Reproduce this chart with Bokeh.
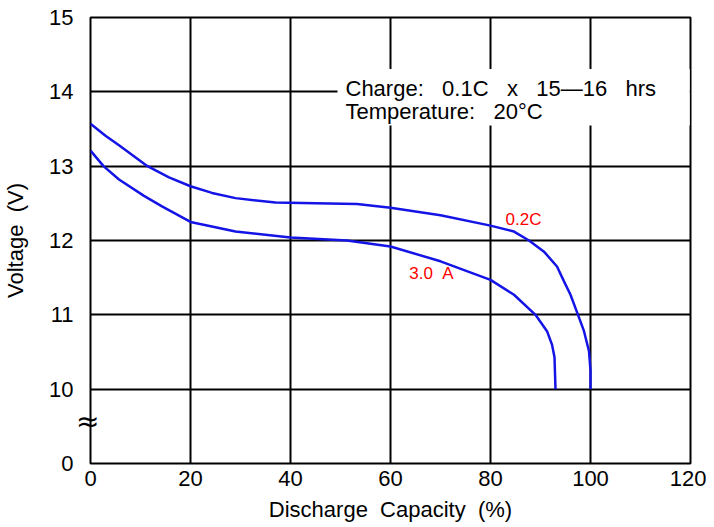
from bokeh.plotting import figure
from bokeh.models import FixedTicker, Range1d, Label, LinearAxis
from bokeh.embed import file_html
from bokeh.resources import INLINE

# ---- data ----
cap_02c = [0, 3, 5.7, 11.4, 15.7, 20, 24.3, 29, 37, 45, 53.3, 60, 70, 80, 84.7, 87.7,
           90.7, 93.3, 94.7, 96, 97.5, 98.7, 99.7, 100, 100]
volt_02c = [13.57, 13.41, 13.28, 13.0, 12.85, 12.73, 12.64, 12.57, 12.51, 12.5, 12.49,
            12.44, 12.34, 12.2, 12.12, 12.0, 11.85, 11.65, 11.45, 11.27, 11.0, 10.78,
            10.51, 10.25, 10.0]
cap_3a = [0, 2.6, 5.7, 10.7, 14.3, 20, 29, 40, 51.3, 60, 70, 80, 84.7, 89, 91.3, 92.3,
          92.8, 93]
volt_3a = [13.21, 13.0, 12.82, 12.6, 12.46, 12.25, 12.12, 12.04, 12.0, 11.92, 11.72,
           11.47, 11.27, 11.0, 10.78, 10.6, 10.43, 10.0]
x_ticks = [0, 20, 40, 60, 80, 100, 120]
y_ticks = [9, 10, 11, 12, 13, 14, 15]
y_tick_labels = {9: "0", 10: "10", 11: "11", 12: "12", 13: "13", 14: "14", 15: "15"}
break_at = 9.56

FONT = "Liberation Sans"
NB = "\u00a0"

p = figure(width=706, height=524, output_backend="svg", toolbar_location=None,
           x_range=Range1d(0, 120), y_range=Range1d(9, 15),
           min_border_left=90, min_border_right=16, min_border_top=17, min_border_bottom=58)
p.background_fill_color = "white"
p.border_fill_color = "white"
p.outline_line_color = "black"
p.outline_line_width = 2

p.xaxis.ticker = FixedTicker(ticks=x_ticks)
p.yaxis.ticker = FixedTicker(ticks=y_ticks)
p.yaxis.major_label_overrides = y_tick_labels
for ax in (p.xaxis[0], p.yaxis[0]):
    ax.axis_line_color = None
    ax.major_tick_in = 0
    ax.major_tick_out = 0
    ax.minor_tick_in = 0
    ax.minor_tick_out = 0
    ax.major_label_text_font = FONT
    ax.major_label_text_font_size = "22px"
    ax.major_label_text_color = "black"
    ax.axis_label_text_font = FONT
    ax.axis_label_text_font_size = "22px"
    ax.axis_label_text_font_style = "normal"
    ax.axis_label_text_color = "black"
p.xaxis.axis_label = f"Discharge{NB*2}Capacity{NB*2}(%)"
p.yaxis.axis_label = f"Voltage{NB*2}(V)"
p.xaxis.major_label_standoff = 7
p.yaxis.major_label_standoff = 0
p.xaxis.axis_label_standoff = 8
p.yaxis.axis_label_standoff = 18

# axis-break symbol drawn as the only label of an extra axis sitting on the frame edge
brk = LinearAxis(ticker=FixedTicker(ticks=[break_at]),
                 major_label_overrides={break_at: "\u2248"},
                 axis_line_color=None, major_tick_in=0, major_tick_out=0,
                 minor_tick_in=0, minor_tick_out=0,
                 major_label_text_font="DejaVu Sans", major_label_text_font_size="28px",
                 major_label_text_color="black", major_label_standoff=-9)
main_y = p.yaxis[0]
p.left = [brk, main_y]

p.xgrid.ticker = FixedTicker(ticks=[20, 40, 60, 80, 100])
p.ygrid.ticker = FixedTicker(ticks=[10, 11, 12, 13, 14])
for g in (p.xgrid[0], p.ygrid[0]):
    g.grid_line_color = "black"
    g.grid_line_width = 2
    g.grid_line_alpha = 1

# white box behind the condition note
p.quad(left=49.4, right=119.85, bottom=13.547, top=14.307, fill_color="white", line_color=None)

p.line(cap_02c, volt_02c, line_color="#1414e6", line_width=2.5)
p.line(cap_3a, volt_3a, line_color="#1414e6", line_width=2.5)

G = NB * 3
p.add_layout(Label(x=51, y=14.045, text=f"Charge:{G}0.1C{G}x{G}15\u201416{G}hrs",
                   text_font=FONT, text_font_size="22px", text_color="black",
                   text_baseline="alphabetic"))
p.add_layout(Label(x=51, y=13.73, text=f"Temperature:{G}20\u00b0C",
                   text_font=FONT, text_font_size="22px", text_color="black",
                   text_baseline="alphabetic"))

p.add_layout(Label(x=86.6, y=12.28, text="0.2C", text_font=FONT,
                   text_font_size="17px", text_color="red", text_align="center",
                   text_baseline="middle"))
p.add_layout(Label(x=68.2, y=11.55, text=f"3.0{NB*2}A", text_font=FONT,
                   text_font_size="17px", text_color="red", text_align="center",
                   text_baseline="middle"))

open("out.html", "w").write(file_html(p, INLINE))
